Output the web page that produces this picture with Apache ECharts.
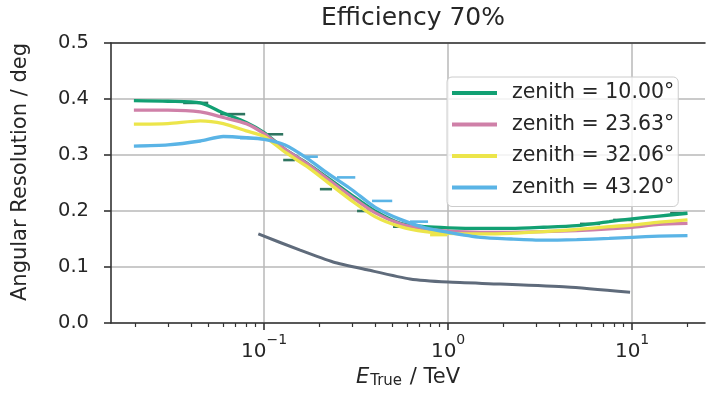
<!DOCTYPE html>
<html>
<head>
<meta charset="utf-8">
<script src="https://cdn.jsdelivr.net/npm/echarts@6/dist/echarts.min.js"></script>
<style>
  html, body { margin: 0; padding: 0; background: #ffffff; }
  #chart { width: 706px; height: 394px; }
</style>
</head>
<body>
<div id="chart"></div>
<script>
// True energy (TeV) at which the angular resolution is evaluated
const energies = [0.0196, 0.03, 0.045, 0.06, 0.08, 0.1, 0.13, 0.17, 0.22, 0.3, 0.4, 0.55, 0.75,
                  1.0, 1.5, 2.2, 3.3, 5, 7.5, 10, 14, 20];

const zenithLabels = ['zenith = 10.00°', 'zenith = 23.63°', 'zenith = 32.06°', 'zenith = 43.20°'];

// Angular resolution (deg) per zenith angle
const resZ10 = [0.397, 0.396, 0.393, 0.375, 0.358, 0.340, 0.310, 0.286, 0.260, 0.228, 0.200, 0.178, 0.172,
                0.170, 0.169, 0.169, 0.171, 0.174, 0.181, 0.186, 0.191, 0.196];
const resZ24 = [0.380, 0.380, 0.377, 0.367, 0.356, 0.338, 0.310, 0.285, 0.258, 0.225, 0.197, 0.177, 0.168,
                0.164, 0.162, 0.162, 0.163, 0.165, 0.168, 0.171, 0.176, 0.178];
const resZ32 = [0.355, 0.356, 0.361, 0.356, 0.343, 0.333, 0.305, 0.280, 0.252, 0.218, 0.190, 0.172, 0.163,
                0.160, 0.159, 0.160, 0.163, 0.167, 0.172, 0.175, 0.180, 0.184];
const resZ43 = [0.316, 0.318, 0.325, 0.333, 0.331, 0.328, 0.318, 0.295, 0.268, 0.238, 0.207, 0.185, 0.170,
                0.162, 0.153, 0.150, 0.148, 0.149, 0.151, 0.153, 0.155, 0.156];

// Reference curve (no legend entry)
const refEnergies = [0.093, 0.157, 0.237, 0.363, 0.621, 1.0, 1.92, 4.43, 9.75];
const refValues   = [0.159, 0.130, 0.109, 0.095, 0.0786, 0.073, 0.0696, 0.0643, 0.055];

// Binned points with horizontal (energy bin) bars: [E low, E high, resolution]
const binsZ10 = [[0.0363, 0.0497, 0.393], [0.0577, 0.0789, 0.373], [0.105, 0.127, 0.337],
                 [0.127, 0.147, 0.291], [0.201, 0.234, 0.239], [0.32, 0.368, 0.200],
                 [0.502, 0.568, 0.172], [5.21, 6.70, 0.177], [7.89, 10.1, 0.184], [16.1, 19.9, 0.196]];
const binsZ32 = [[0.798, 0.99, 0.157]];
const binsZ43 = [[0.074, 0.092, 0.330], [0.167, 0.196, 0.297], [0.249, 0.313, 0.260],
                 [0.386, 0.497, 0.218], [0.621, 0.778, 0.181]];

// Axis ticks
const majorTicks = [0.1, 1, 10];
const majorTickExponents = ['−1', '0', '1'];
const minorTicks = [0.02, 0.03, 0.04, 0.05, 0.06, 0.07, 0.08, 0.09,
                    0.2, 0.3, 0.4, 0.5, 0.6, 0.7, 0.8, 0.9,
                    2, 3, 4, 5, 6, 7, 8, 9, 20];
const yTicks = [0, 0.1, 0.2, 0.3, 0.4, 0.5];

const colors = ['#12a073', '#cf80a8', '#ece54a', '#5ab4e6'];
const refColor = '#5f6b7b';
const FONT = 'DejaVu Sans';
const TEXT = '#262626';

const lg = v => Math.log10(v);
const xMin = lg(0.01472), xMax = lg(24.9);

const chart = echarts.init(document.getElementById('chart'), null, { renderer: 'canvas' });

const resSeries = [resZ10, resZ24, resZ32, resZ43];
const binSeries = [binsZ10, null, binsZ32, binsZ43];

const series = [];
series.push({
  type: 'line', name: 'reference', xAxisIndex: 0, yAxisIndex: 0,
  data: refEnergies.map((e, i) => [lg(e), refValues[i]]),
  showSymbol: false, symbol: 'none', smooth: 0.2,
  lineStyle: { color: refColor, width: 3 }, itemStyle: { color: refColor },
  z: 3, silent: true
});
resSeries.forEach((vals, k) => {
  series.push({
    type: 'line', name: zenithLabels[k], xAxisIndex: 0, yAxisIndex: 0,
    data: energies.map((e, i) => [lg(e), vals[i]]),
    showSymbol: false, symbol: 'none', smooth: 0.25,
    lineStyle: { color: colors[k], width: 3.3 }, itemStyle: { color: colors[k] },
    z: 4 + k
  });
  const bins = binSeries[k];
  if (bins) {
    series.push({
      type: 'custom', name: zenithLabels[k] + ' bins', xAxisIndex: 0, yAxisIndex: 0,
      data: bins.map(b => [lg(b[0]), lg(b[1]), b[2]]),
      encode: { x: [0, 1], y: 2 },
      z: 4 + k, silent: true,
      renderItem: (params, api) => {
        const p0 = api.coord([api.value(0), api.value(2)]);
        const p1 = api.coord([api.value(1), api.value(2)]);
        return {
          type: 'line',
          shape: { x1: p0[0], y1: p0[1], x2: p1[0], y2: p1[1] },
          style: { stroke: k === 0 ? '#2f7560' : colors[k], lineWidth: 2.6 }
        };
      }
    });
  }
});

const axisLineStyle = { color: '#333333', width: 1.6 };

chart.setOption({
  animation: false,
  backgroundColor: '#ffffff',
  textStyle: { fontFamily: FONT },
  title: {
    text: 'Efficiency 70%',
    left: 408, top: 1, textAlign: 'center',
    textStyle: { fontFamily: FONT, fontSize: 25, fontWeight: 'normal', color: TEXT }
  },
  legend: {
    data: zenithLabels,
    orient: 'vertical',
    left: 447, top: 77,
    icon: 'rect', itemWidth: 45, itemHeight: 4, itemGap: 9.5,
    padding: [5, 4, 8, 5],
    backgroundColor: 'rgba(255,255,255,0.8)',
    borderColor: '#cccccc', borderWidth: 1, borderRadius: 5,
    textStyle: { fontFamily: FONT, fontSize: 20.5, lineHeight: 22, color: TEXT, padding: [0, 0, 0, 10] }
  },
  grid: { left: 111, right: 1, top: 43, bottom: 71, containLabel: false },
  xAxis: [
    {
      type: 'value', min: xMin, max: xMax, position: 'bottom',
      name: '{it|E}{sub|True}{n| / TeV}',
      nameLocation: 'middle', nameGap: 43,
      nameTextStyle: {
        fontFamily: FONT, fontSize: 21, color: TEXT,
        rich: {
          it: { fontFamily: FONT, fontSize: 21, fontStyle: 'italic', color: TEXT },
          sub: { fontFamily: FONT, fontSize: 15, color: TEXT, padding: [8, 1, 0, 1] },
          n: { fontFamily: FONT, fontSize: 21, color: TEXT }
        }
      },
      axisLine: { show: true, onZero: false, lineStyle: axisLineStyle },
      axisTick: { show: true, inside: false, length: 7, lineStyle: { color: '#333333', width: 1.6 },
                  customValues: majorTicks.map(lg) },
      axisLabel: {
        customValues: majorTicks.map(lg), margin: 10,
        fontFamily: FONT, fontSize: 20, color: TEXT,
        rich: {
          b: { fontFamily: FONT, fontSize: 20, color: TEXT, padding: [9, 0, 0, 0] },
          s: { fontFamily: FONT, fontSize: 14, color: TEXT, verticalAlign: 'top' }
        },
        formatter: v => {
          const i = majorTicks.findIndex(t => Math.abs(lg(t) - v) < 1e-6);
          return i >= 0 ? '{b|10}{s|' + majorTickExponents[i] + '}' : '';
        }
      },
      splitLine: { show: true, lineStyle: { color: '#b8b8b8', width: 1.5 } }
    },
    {
      type: 'value', min: xMin, max: xMax, position: 'bottom',
      axisLine: { show: false, onZero: false },
      axisTick: { show: true, inside: false, length: 4, lineStyle: { color: '#333333', width: 1.2 },
                  customValues: minorTicks.map(lg) },
      axisLabel: { show: false },
      splitLine: { show: false }
    },
    {
      type: 'value', min: xMin, max: xMax, position: 'top',
      axisLine: { show: true, onZero: false, lineStyle: axisLineStyle },
      axisTick: { show: false }, axisLabel: { show: false }, splitLine: { show: false }
    }
  ],
  yAxis: {
    type: 'value', min: 0, max: 0.5, interval: 0.1,
    name: 'Angular Resolution / deg',
    nameLocation: 'middle', nameGap: 80, nameRotate: 90,
    nameTextStyle: { fontFamily: FONT, fontSize: 21, color: TEXT, padding: [0, 0, 0, 22] },
    axisLine: { show: true, onZero: false, lineStyle: axisLineStyle },
    axisTick: { show: true, inside: false, length: 7, lineStyle: { color: '#333333', width: 1.6 } },
    axisLabel: {
      margin: 22, fontFamily: FONT, fontSize: 19.5, color: TEXT,
      formatter: v => {
        const t = yTicks.find(y => Math.abs(y - v) < 1e-9);
        return t === undefined ? '' : t.toFixed(1);
      }
    },
    splitLine: { show: true, lineStyle: { color: '#b8b8b8', width: 1.5 } }
  },
  series: series
});
</script>
</body>
</html>
